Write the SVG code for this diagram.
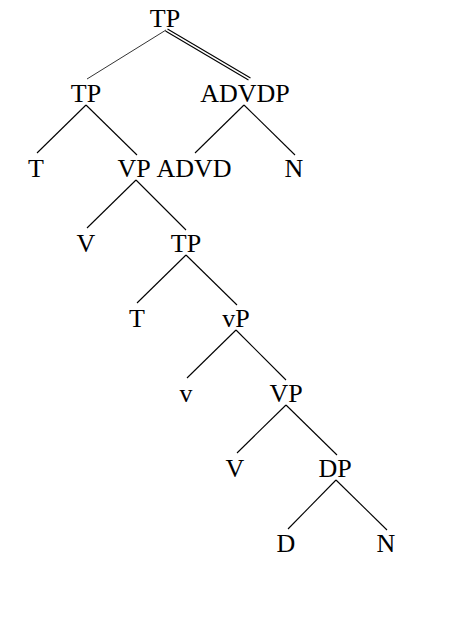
<svg xmlns="http://www.w3.org/2000/svg" width="450" height="625" viewBox="0 0 450 625">
<style>
text{font-family:"Liberation Serif","Times New Roman",serif;font-size:26px;fill:#000;text-anchor:middle}
line{stroke:#000;stroke-width:1.1}
</style>
<rect width="450" height="625" fill="#fff"/>
<g id="connectors">
<line x1="166" y1="30" x2="87" y2="79" style="stroke-width:0.8"/>
<line x1="165.5" y1="31" x2="248.5" y2="80"/>
<line x1="167.5" y1="29" x2="250.5" y2="78"/>
<line x1="86" y1="105" x2="37" y2="153"/>
<line x1="86" y1="105" x2="137" y2="155"/>
<line x1="244" y1="105" x2="195" y2="153"/>
<line x1="244" y1="105" x2="295" y2="155"/>
<line x1="136" y1="180" x2="87" y2="228"/>
<line x1="136" y1="180" x2="186" y2="230"/>
<line x1="186" y1="255" x2="137" y2="303"/>
<line x1="186" y1="255" x2="237" y2="305"/>
<line x1="236" y1="330" x2="187" y2="378"/>
<line x1="236" y1="330" x2="286" y2="380"/>
<line x1="286" y1="405" x2="237" y2="453"/>
<line x1="286" y1="405" x2="337" y2="455"/>
<line x1="336" y1="480" x2="288" y2="529"/>
<line x1="336" y1="480" x2="387" y2="530"/>
</g>
<g id="n-tp-root"><text x="165" y="27">TP</text></g>
<g id="n-tp2"><text x="86" y="102">TP</text></g>
<g id="n-advdp"><text x="245" y="102">ADVDP</text></g>
<g id="n-t1"><text x="36" y="177">T</text></g>
<g id="n-vp1"><text x="134" y="177">VP</text></g>
<g id="n-advd"><text x="194" y="177">ADVD</text></g>
<g id="n-n1"><text x="294" y="177">N</text></g>
<g id="n-v1"><text x="86" y="252">V</text></g>
<g id="n-tp3"><text x="186" y="252">TP</text></g>
<g id="n-t2"><text x="137" y="327">T</text></g>
<g id="n-vp-small"><text x="236" y="327">vP</text></g>
<g id="n-v-small"><text x="186" y="402">v</text></g>
<g id="n-vp2"><text x="286" y="402">VP</text></g>
<g id="n-v2"><text x="235" y="477">V</text></g>
<g id="n-dp"><text x="335" y="477">DP</text></g>
<g id="n-d"><text x="286" y="552">D</text></g>
<g id="n-n2"><text x="386" y="552">N</text></g>
</svg>
